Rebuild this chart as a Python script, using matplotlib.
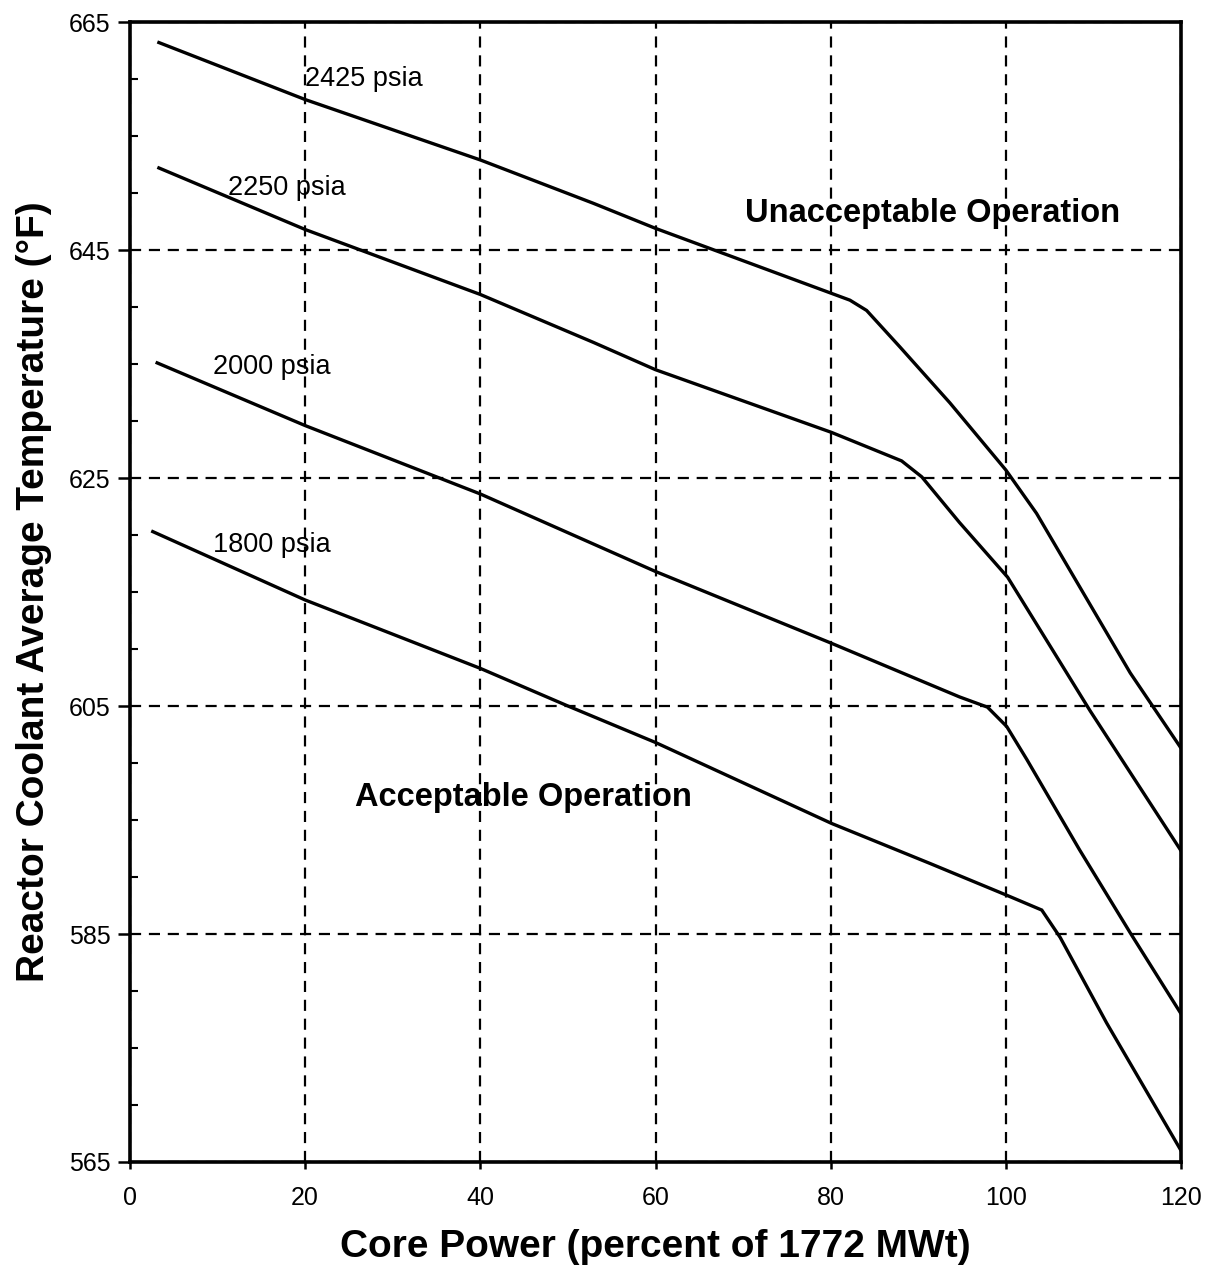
import numpy as np
import matplotlib.pyplot as plt
from matplotlib.ticker import MultipleLocator

plt.rcParams['font.family'] = ['Liberation Sans', 'DejaVu Sans']

# Core power (percent) and average temperature (F) for each pressure curve
p2425_x = [3.3, 20, 40, 52.9, 60, 82.2, 84.1, 87.9, 93.6, 100, 103.5, 114.2, 120]
p2425_t = [663.2, 658.2, 652.9, 649.1, 646.9, 640.6, 639.7, 636.5, 631.6, 625.7, 621.9, 607.9, 601.3]

p2250_x = [3.3, 20, 40, 52.9, 60, 80.1, 88.1, 90.4, 94.7, 100.2, 109.6, 120]
p2250_t = [652.2, 646.8, 641.1, 636.9, 634.5, 629.0, 626.5, 625.1, 621.1, 616.3, 604.6, 592.3]

p2000_x = [3.1, 20, 40, 60, 80.1, 94.7, 97.9, 100.1, 102.4, 108.4, 114.2, 120]
p2000_t = [635.1, 629.6, 623.6, 616.8, 610.5, 605.8, 604.9, 603.2, 600.3, 592.4, 585.1, 578.0]

p1800_x = [2.6, 20, 40, 50, 60, 80.1, 91.3, 100.1, 104.1, 106.2, 111.5, 120]
p1800_t = [620.3, 614.3, 608.3, 605.0, 601.8, 594.7, 591.2, 588.4, 587.1, 584.7, 577.2, 566.0]

curves = [(p2425_x, p2425_t), (p2250_x, p2250_t), (p2000_x, p2000_t), (p1800_x, p1800_t)]
curve_labels = ['2425 psia', '2250 psia', '2000 psia', '1800 psia']
label_pos = [(20.0, 660.0), (11.2, 650.4), (9.5, 634.7), (9.5, 619.1)]

y_ticks = [565, 585, 605, 625, 645, 665]
x_ticks = [0, 20, 40, 60, 80, 100, 120]

fig = plt.figure(figsize=(12.07, 12.81), dpi=100)
ax = fig.add_axes([0.1077, 0.0929, 0.8708, 0.8899])

for (x, t) in curves:
    ax.plot(x, t, color='black', lw=2.4, solid_joinstyle='miter')

for lab, (x, t) in zip(curve_labels, label_pos):
    ax.text(x, t, lab, fontsize=19.5, ha='left', va='center')

ax.text(70.2, 648.2, 'Unacceptable Operation', fontsize=23.5, fontweight='bold', ha='left', va='center')
ax.text(25.7, 597.0, 'Acceptable Operation', fontsize=23.5, fontweight='bold', ha='left', va='center')

ax.set_xlim(0, 120)
ax.set_ylim(565, 665)
ax.set_xticks(x_ticks)
ax.set_yticks(y_ticks)
ax.yaxis.set_minor_locator(MultipleLocator(5))
ax.tick_params(axis='both', which='major', labelsize=18, width=1.8, color='black')
ax.tick_params(axis='y', which='major', direction='out', length=9, pad=5)
ax.tick_params(axis='y', which='minor', direction='in', length=6, width=1.5)
ax.tick_params(axis='x', which='major', direction='out', length=5, pad=12)

ax.grid(True, which='major', linestyle=(0, (5, 3.5)), color='black', lw=1.6)

for s in ax.spines.values():
    s.set_linewidth(2.6)

ax.set_xlabel('Core Power (percent of 1772 MWt)', fontsize=28, fontweight='bold', labelpad=14)
ax.set_ylabel('Reactor Coolant Average Temperature (°F)', fontsize=28, fontweight='bold', labelpad=12)

fig.savefig('out.png', dpi=100)
